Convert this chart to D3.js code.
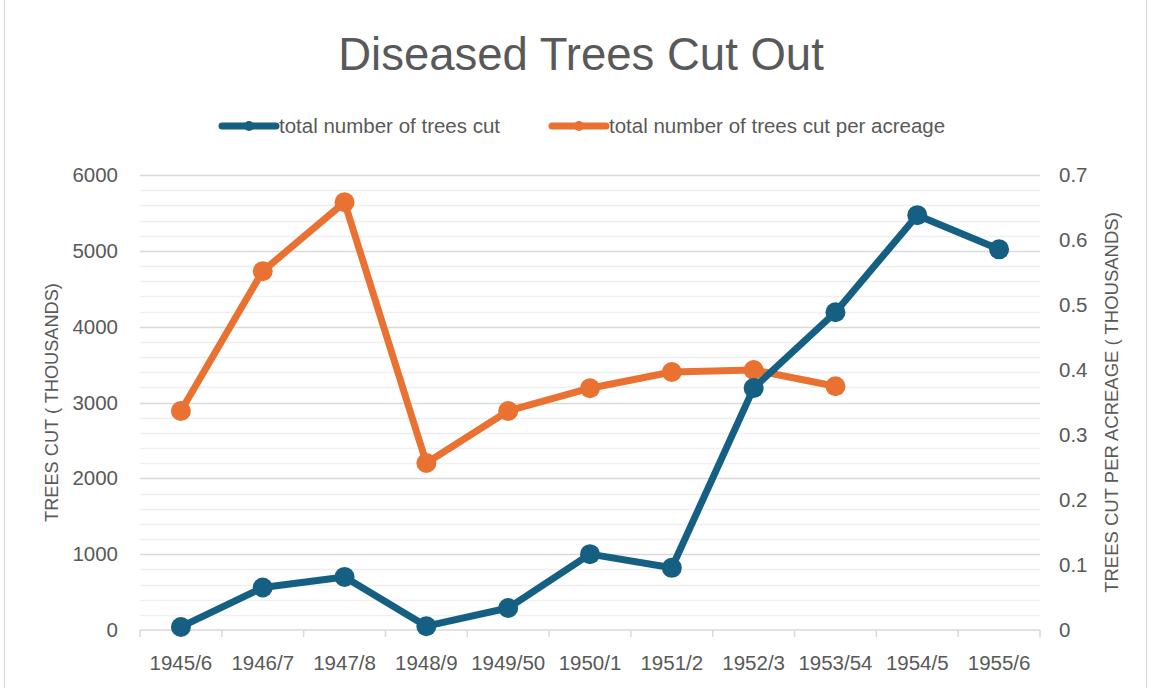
<!DOCTYPE html>
<html>
<head>
<meta charset="utf-8">
<script src="https://cdn.jsdelivr.net/npm/d3@7"></script>
<style>
  body { margin: 0; background: #fff; }
  text { font-family: "Liberation Sans", Arial, sans-serif; fill: #595959; }
</style>
</head>
<body>
<script>
var width = 1151, height = 688;
var margin = {top: 175, right: 111, bottom: 58, left: 140};

// data
var seasons = ["1945/6", "1946/7", "1947/8", "1948/9", "1949/50", "1950/1", "1951/2", "1952/3", "1953/54", "1954/5", "1955/6"];
var treesCut = [40, 560, 700, 50, 290, 1000, 820, 3190, 4190, 5470, 5020];
var perAcreage = [0.337, 0.552, 0.658, 0.257, 0.337, 0.372, 0.397, 0.400, 0.375, null, null];
var leftTicks = [0, 1000, 2000, 3000, 4000, 5000, 6000];
var rightTicks = [0, 0.1, 0.2, 0.3, 0.4, 0.5, 0.6, 0.7];

var blue = "#156082", orange = "#E97132";

var svg = d3.select("body").append("svg")
    .attr("width", width)
    .attr("height", height);

svg.append("rect")
    .attr("x", 4.5).attr("y", -1)
    .attr("width", width - 9).attr("height", height + 2)
    .attr("fill", "#fff")
    .attr("stroke", "#d9d9d9");

var x = d3.scaleBand()
    .domain(seasons)
    .range([margin.left, width - margin.right]);

var yL = d3.scaleLinear().domain([0, 6000]).range([height - margin.bottom, margin.top]);
var yR = d3.scaleLinear().domain([0, 0.7]).range([height - margin.bottom, margin.top]);

// gridlines: minor every 200, major every 1000
var grid = svg.append("g");
grid.selectAll("line.minor")
    .data(d3.range(200, 6001, 200).filter(function(v) { return v % 1000 != 0; }))
    .enter().append("line")
    .attr("x1", margin.left).attr("x2", width - margin.right)
    .attr("y1", function(d) { return Math.round(yL(d)) + 0.5; })
    .attr("y2", function(d) { return Math.round(yL(d)) + 0.5; })
    .attr("stroke", "#efefef").attr("stroke-width", 1.5);
grid.selectAll("line.major")
    .data(leftTicks.slice(1))
    .enter().append("line")
    .attr("x1", margin.left).attr("x2", width - margin.right)
    .attr("y1", function(d) { return Math.round(yL(d)) + 0.5; })
    .attr("y2", function(d) { return Math.round(yL(d)) + 0.5; })
    .attr("stroke", "#d9d9d9").attr("stroke-width", 1.5);

// x axis
var xAxis = svg.append("g")
    .attr("transform", "translate(0," + (height - margin.bottom) + ")");
xAxis.append("line")
    .attr("x1", margin.left).attr("x2", width - margin.right)
    .attr("stroke", "#d9d9d9").attr("stroke-width", 1.5);
xAxis.selectAll("line.tick")
    .data(seasons.concat(["end"]))
    .enter().append("line")
    .attr("x1", function(d, i) { return margin.left + i * x.bandwidth(); })
    .attr("x2", function(d, i) { return margin.left + i * x.bandwidth(); })
    .attr("y1", 0).attr("y2", 7)
    .attr("stroke", "#d9d9d9").attr("stroke-width", 1.5);
xAxis.selectAll("text")
    .data(seasons)
    .enter().append("text")
    .attr("x", function(d) { return x(d) + x.bandwidth() / 2; })
    .attr("y", 40)
    .attr("text-anchor", "middle")
    .attr("font-size", 20.5)
    .text(function(d) { return d; });

// left ticks
svg.append("g").selectAll("text")
    .data(leftTicks)
    .enter().append("text")
    .attr("x", 118)
    .attr("y", function(d) { return yL(d) + 7; })
    .attr("text-anchor", "end")
    .attr("font-size", 20.5)
    .text(function(d) { return d; });

// right ticks
svg.append("g").selectAll("text")
    .data(rightTicks)
    .enter().append("text")
    .attr("x", 1059)
    .attr("y", function(d) { return yR(d) + 7; })
    .attr("font-size", 20.5)
    .text(function(d) { return d3.format("~g")(d); });

// axis titles
svg.append("text")
    .attr("transform", "translate(58," + ((height - margin.bottom + margin.top) / 2) + ") rotate(-90)")
    .attr("text-anchor", "middle")
    .attr("font-size", 18.2)
    .text("TREES CUT ( THOUSANDS)");
svg.append("text")
    .attr("transform", "translate(1118," + ((height - margin.bottom + margin.top) / 2) + ") rotate(-90)")
    .attr("text-anchor", "middle")
    .attr("font-size", 18.5)
    .text("TREES CUT PER ACREAGE ( THOUSANDS)");

// title
svg.append("text")
    .attr("x", 581).attr("y", 70)
    .attr("text-anchor", "middle")
    .attr("font-size", 45.5)
    .text("Diseased Trees Cut Out");

function cx(d, i) { return x(seasons[i]) + x.bandwidth() / 2; }

function drawSeries(vals, scale, color) {
  var pts = vals.map(function(v, i) { return {i: i, v: v}; })
      .filter(function(d) { return d.v != null; });
  var line = d3.line()
      .x(function(d) { return cx(null, d.i); })
      .y(function(d) { return scale(d.v); });
  svg.append("path")
      .datum(pts)
      .attr("d", line)
      .attr("fill", "none")
      .attr("stroke", color)
      .attr("stroke-width", 7)
      .attr("stroke-linejoin", "round");
  svg.append("g").selectAll("circle")
      .data(pts)
      .enter().append("circle")
      .attr("cx", function(d) { return cx(null, d.i); })
      .attr("cy", function(d) { return scale(d.v); })
      .attr("r", 10)
      .attr("fill", color);
}

drawSeries(perAcreage, yR, orange);
drawSeries(treesCut, yL, blue);

// legend
var legendItems = [
  {label: "total number of trees cut", color: blue, x: 222},
  {label: "total number of trees cut per acreage", color: orange, x: 552}
];
var legend = svg.append("g").selectAll("g")
    .data(legendItems)
    .enter().append("g")
    .attr("transform", function(d) { return "translate(" + d.x + ",126)"; });
legend.append("line")
    .attr("x1", 0).attr("x2", 54)
    .attr("stroke", function(d) { return d.color; })
    .attr("stroke-width", 7)
    .attr("stroke-linecap", "round");
legend.append("circle")
    .attr("cx", 27).attr("r", 5)
    .attr("fill", function(d) { return d.color; });
legend.append("text")
    .attr("x", 57).attr("y", 7)
    .attr("font-size", 20.5)
    .text(function(d) { return d.label; });
</script>
</body>
</html>
